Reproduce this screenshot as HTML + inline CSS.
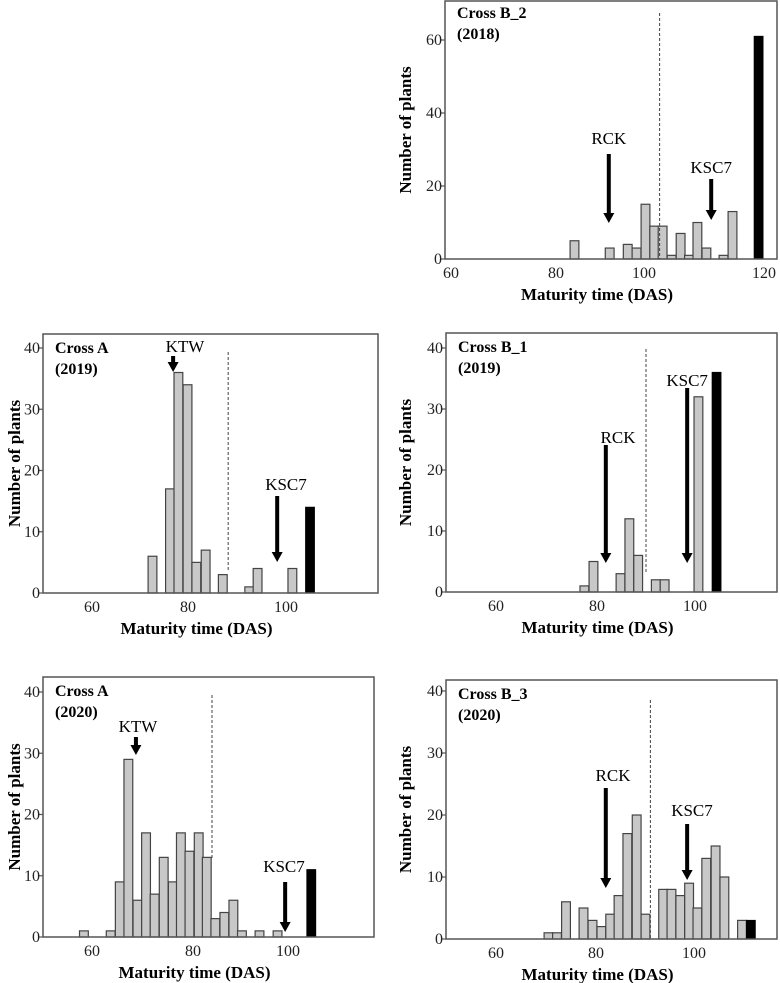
<!DOCTYPE html>
<html><head><meta charset="utf-8">
<style>
html,body{margin:0;padding:0;background:#fff;}
svg{display:block;font-family:"Liberation Serif",serif;}
</style></head>
<body>
<svg id="fig" width="780" height="983" viewBox="0 0 780 983" xmlns="http://www.w3.org/2000/svg"></svg>
<script>
// ---- Data (bin centers in DAS, counts) ----
const b2Bins = [84.2, 92.2, 96.3, 98.3, 100.25, 101.7, 103.1, 104.6, 106.1, 107.5, 108.9, 110.4, 113.25, 114.75];
const b2Counts = [5, 3, 4, 3, 15, 9, 9, 1, 7, 1, 10, 3, 1, 13];
const b2Parent = [119.1];
const b2ParentCount = [61];

const a19Bins = [72.6, 76.25, 78.0, 79.9, 81.7, 83.6, 87.1, 92.5, 94.2, 101.3];
const a19Counts = [6, 17, 36, 34, 5, 7, 3, 1, 4, 4];
const a19Parent = [104.9];
const a19ParentCount = [14];

const b1Bins = [77.5, 79.3, 84.8, 86.6, 88.4, 92.0, 93.8, 100.7];
const b1Counts = [1, 5, 3, 12, 6, 2, 2, 32];
const b1Parent = [104.4];
const b1ParentCount = [36];

const a20Bins = [58.4, 63.7, 65.5, 67.2, 69.0, 70.7, 72.4, 74.2, 76.0, 77.6, 79.3, 81.2, 82.9, 84.7, 86.6, 88.5, 90.3, 94.0, 97.8];
const a20Counts = [1, 1, 9, 29, 6, 17, 7, 13, 9, 17, 14, 17, 13, 3, 4, 6, 1, 1, 1];
const a20Parent = [104.9];
const a20ParentCount = [11];

const b3Bins = [70.5, 72.2, 74.0, 77.5, 79.3, 81.1, 82.9, 84.6, 86.4, 88.3, 90.1, 93.7, 95.4, 97.2, 99.0, 100.7, 102.5, 104.4, 106.2, 109.8];
const b3Counts = [1, 1, 6, 5, 3, 2, 4, 7, 17, 20, 4, 8, 8, 7, 9, 5, 13, 15, 10, 3];
const b3Parent = [111.6];
const b3ParentCount = [3];

const b2XTicks = [60, 80, 100, 120];
const abXTicks = [60, 80, 100];
const b2YTicks = [0, 20, 40, 60];
const abYTicks = [0, 10, 20, 30, 40];

// ---- Layout ----
const panels = [
 {id:'cross-b2-2018', t1:'Cross B_2', t2:'(2018)', L:445, R:777, T:1, B:259, yMax:60, y40:40,
  xTicks:b2XTicks, xPx:[451,556,644,764], yTicks:b2YTicks, bins:b2Bins, counts:b2Counts, pb:b2Parent, pc:b2ParentCount,
  dash:102.6, dashTop:13, dashBot:259, ytitleX:405,
  arrows:[{lab:'RCK',x:92.0,y1:154,y2:223,ly:144},{lab:'KSC7',x:111.2,y1:179,y2:220,ly:173}]},
 {id:'cross-a-2019', t1:'Cross A', t2:'(2019)', L:43, R:378, T:334, B:593, yMax:40, y40:348,
  xTicks:abXTicks, xPx:[92,188,286], yTicks:abYTicks, bins:a19Bins, counts:a19Counts, pb:a19Parent, pc:a19ParentCount,
  dash:88.2, dashTop:352, dashBot:572, ytitleX:14,
  arrows:[{lab:'KTW',x:76.9,y1:356,y2:372,ly:352,lx:185},{lab:'KSC7',x:98.2,y1:496,y2:562,ly:490,lx:286}]},
 {id:'cross-b1-2019', t1:'Cross B_1', t2:'(2019)', L:446, R:777, T:333, B:592, yMax:40, y40:348,
  xTicks:abXTicks, xPx:[496,597,695], yTicks:abYTicks, bins:b1Bins, counts:b1Counts, pb:b1Parent, pc:b1ParentCount,
  dash:90.0, dashTop:349, dashBot:572, ytitleX:405,
  arrows:[{lab:'RCK',x:81.8,y1:445,y2:563,ly:443,lx:618},{lab:'KSC7',x:98.4,y1:388,y2:563,ly:386}]},
 {id:'cross-a-2020', t1:'Cross A', t2:'(2020)', L:43, R:374, T:677, B:937, yMax:40, y40:692,
  xTicks:abXTicks, xPx:[92,193,288], yTicks:abYTicks, bins:a20Bins, counts:a20Counts, pb:a20Parent, pc:a20ParentCount,
  dash:84.0, dashTop:695, dashBot:860, ytitleX:14,
  arrows:[{lab:'KTW',x:68.7,y1:737,y2:755,ly:732,lx:138},{lab:'KSC7',x:99.4,y1:882,y2:932,ly:872,lx:284}]},
 {id:'cross-b3-2020', t1:'Cross B_3', t2:'(2020)', L:446, R:777, T:680, B:939, yMax:40, y40:691,
  xTicks:abXTicks, xPx:[496,596,694], yTicks:abYTicks, bins:b3Bins, counts:b3Counts, pb:b3Parent, pc:b3ParentCount,
  dash:91.1, dashTop:700, dashBot:939, ytitleX:405,
  arrows:[{lab:'RCK',x:82.0,y1:788,y2:888,ly:781,lx:613},{lab:'KSC7',x:98.6,y1:824,y2:880,ly:816,lx:692}]}
];

const NS = 'http://www.w3.org/2000/svg';
const svg = document.getElementById('fig');
function mk(tag, attrs, parent){ const e=document.createElementNS(NS,tag); for(const k in attrs) e.setAttribute(k,attrs[k]); (parent||svg).appendChild(e); return e; }

panels.forEach(p=>{
  const g = mk('g',{});
  
  
  const xs = v=>{
    const t=p.xTicks, q=p.xPx; let i=0;
    if(v<=t[0]) i=0; else if(v>=t[t.length-1]) i=t.length-2; else { while(i<t.length-2 && v>t[i+1]) i++; }
    return q[i]+(v-t[i])*(q[i+1]-q[i])/(t[i+1]-t[i]);
  };
  const ys = v=> p.B - v*(p.B-p.y40)/p.yMax;
  const bw = 8.8;
  p.bins.forEach((b,i)=>{
    const r = mk('rect',{x:xs(b)-bw/2, y:ys(p.counts[i]), width:bw, height:p.B-ys(p.counts[i]), fill:'#c8c8c8', stroke:'#444', 'stroke-width':1.2},g);
    
    
  });
  p.pb.forEach((b,i)=>{
    const r = mk('rect',{x:xs(b)-bw/2, y:ys(p.pc[i]), width:bw, height:p.B-ys(p.pc[i]), fill:'#000', stroke:'#000', 'stroke-width':1},g);
    
    
  });
  const fr = mk('rect',{x:p.L, y:p.T, width:p.R-p.L, height:p.B-p.T, fill:'none', stroke:'#555', 'stroke-width':1.5},g);
  
  
  const dl = mk('line',{x1:xs(p.dash), x2:xs(p.dash), y1:p.dashTop, y2:p.dashBot, stroke:'#444', 'stroke-width':1, 'stroke-dasharray':'3,2'},g);
  
  
  p.yTicks.forEach(v=>{
    mk('line',{x1:p.L-4, x2:p.L, y1:ys(v), y2:ys(v), stroke:'#555','stroke-width':1.2},g);
    const t = mk('text',{x:p.L-3, y:ys(v)+5, 'text-anchor':'end', 'font-size':16, fill:'#222'},g);
    t.textContent = v;
    
    
  });
  p.xTicks.forEach(v=>{
    const t = mk('text',{x:xs(v), y:p.B+19, 'text-anchor':'middle', 'font-size':16, fill:'#222'},g);
    t.textContent = v;
    
    
  });
  const xt = mk('text',{x:(p.L+p.R)/2 - 14, y:p.B+41, 'text-anchor':'middle', 'font-size':17, 'font-weight':'bold'},g);
  xt.textContent = 'Maturity time (DAS)';
  
  
  const cy = (p.T+p.B)/2;
  const yt = mk('text',{x:p.ytitleX, y:cy, 'text-anchor':'middle', 'font-size':17, 'font-weight':'bold', transform:`rotate(-90 ${p.ytitleX} ${cy}) translate(0 6)`},g);
  yt.textContent = 'Number of plants';
  
  
  const lx = p.L + 12;
  const l1 = mk('text',{x:lx, y:p.T+ (p.id==='cross-b2-2018'?17:19), 'font-size':16, 'font-weight':'bold'},g);
  l1.textContent = p.t1;
  
  
  const l2 = mk('text',{x:lx, y:p.T+(p.id==='cross-b2-2018'?38:40), 'font-size':16, 'font-weight':'bold'},g);
  l2.textContent = p.t2;
  
  
  p.arrows.forEach(a=>{
    const x = xs(a.x);
    mk('line',{x1:x, x2:x, y1:a.y1, y2:a.y2-8, stroke:'#000','stroke-width':4},g);
    const hd = mk('polygon',{points:`${x-5.5},${a.y2-10} ${x+5.5},${a.y2-10} ${x},${a.y2}`, fill:'#000'},g);
    
    
    const t = mk('text',{x:(a.lx!==undefined?a.lx:x), y:a.ly, 'text-anchor':'middle', 'font-size':17},g);
    t.textContent = a.lab;
    
    
  });
});
</script>
</body></html>
